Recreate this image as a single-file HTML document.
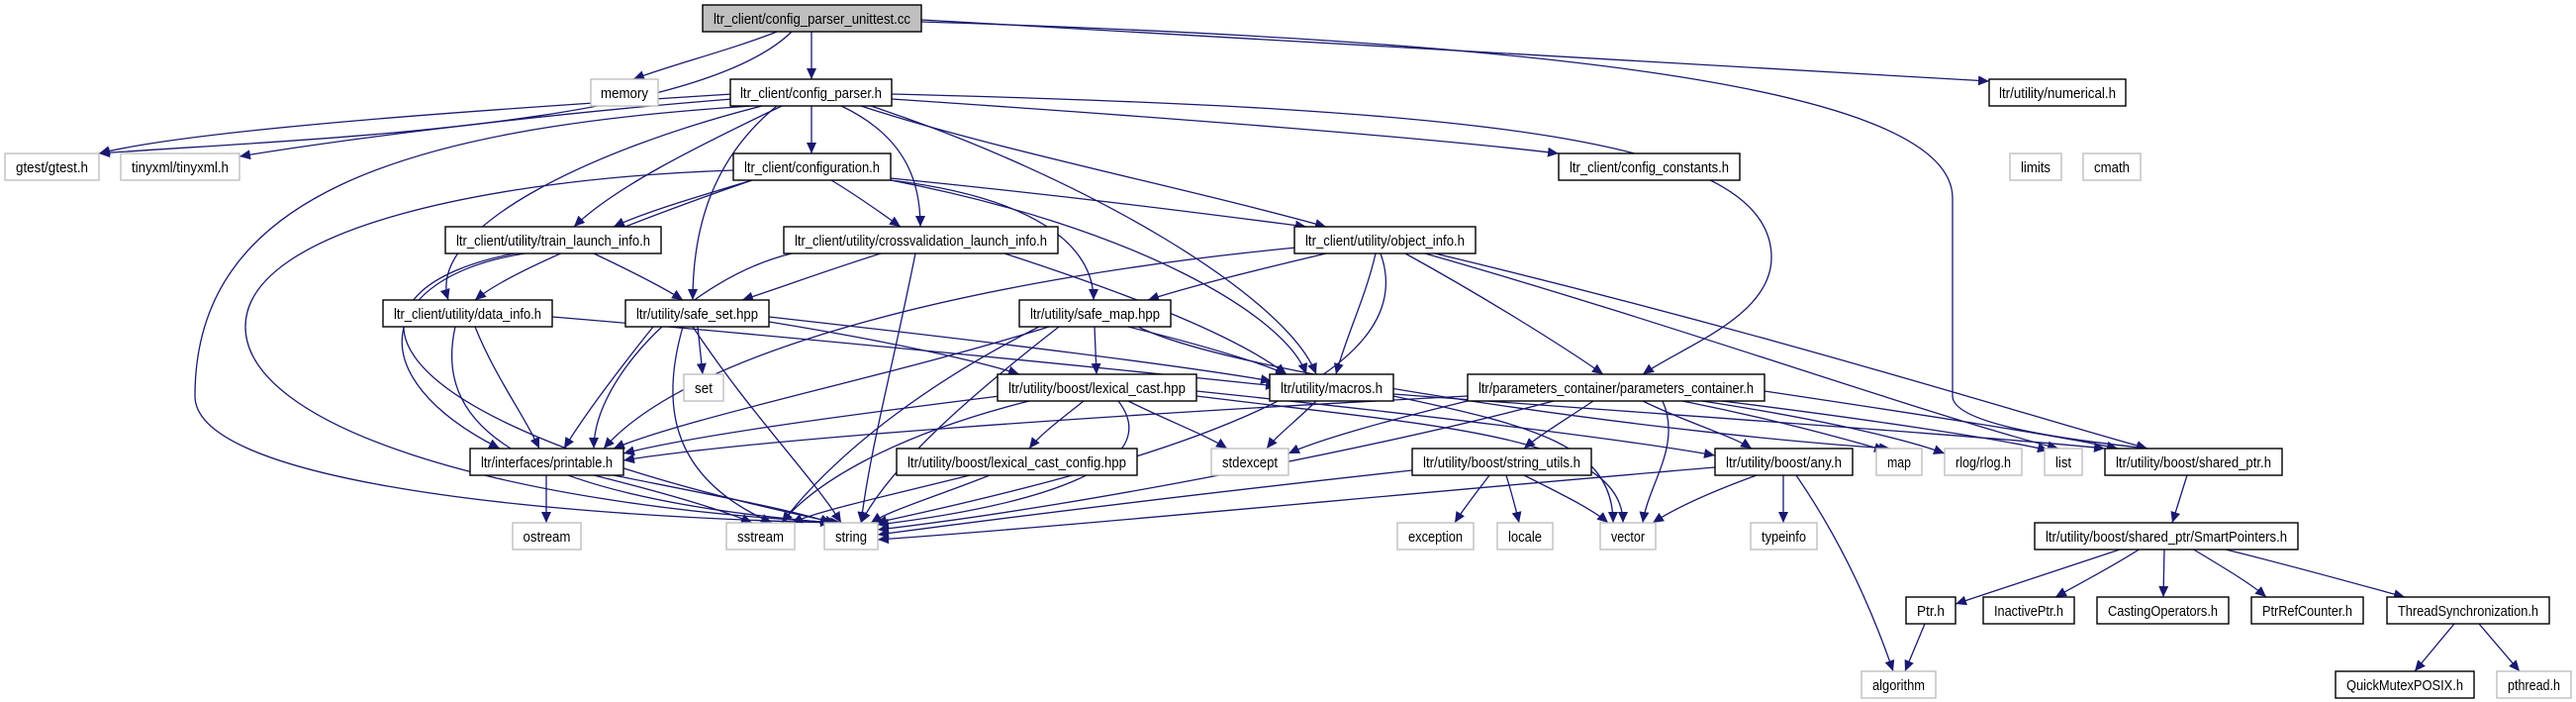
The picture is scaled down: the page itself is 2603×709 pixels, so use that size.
<!DOCTYPE html>
<html><head><meta charset="utf-8"><style>
html,body{margin:0;padding:0;background:#fff;}
svg{display:block;}
text{font-family:"Liberation Sans",sans-serif;font-size:15px;fill:#000;}
.e{fill:none;stroke:#191970;stroke-width:1.3;marker-end:url(#a);}
.n{fill:#fff;stroke:#000;stroke-width:1.4;}
.x{fill:#fff;stroke:#bfbfbf;stroke-width:1.4;}
</style></head><body>
<svg width="2603" height="709" viewBox="0 0 2603 709" xmlns="http://www.w3.org/2000/svg">
<defs><marker id="a" markerUnits="userSpaceOnUse" markerWidth="12" markerHeight="10" refX="11" refY="5" orient="auto"><path d="M0,0 L11,5 L0,10 Z" fill="#191970"/></marker></defs>
<g>
<path class="e" d="M785 32 C740 50,680 65,640 80"/>
<path class="e" d="M820 32 L820 80"/>
<path class="e" d="M800 32 C700 130,300 140,100 155"/>
<path class="e" d="M931 20 C1400 45,1800 70,2010 82"/>
<path class="e" d="M931 22 C1500 40,1973 80,1973 200 L1973 400 C1973 430,2100 445,2170 453"/>
<path class="e" d="M740 95 C500 110,200 130,100 155"/>
<path class="e" d="M740 100 C550 115,350 140,242 158"/>
<path class="e" d="M820 107 L820 155"/>
<path class="e" d="M790 107 C700 150,620 190,580 229"/>
<path class="e" d="M850 107 C920 140,930 190,930 229"/>
<path class="e" d="M870 107 C1000 150,1200 190,1340 229"/>
<path class="e" d="M770 107 C600 150,430 230,453 303"/>
<path class="e" d="M785 107 C720 160,700 230,700 303"/>
<path class="e" d="M880 107 C1100 180,1300 300,1330 378"/>
<path class="e" d="M901 100 C1200 120,1450 140,1575 155"/>
<path class="e" d="M901 95 C1500 110,1790 140,1790 260 C1790 320,1700 350,1660 378"/>
<path class="e" d="M760 107 C400 130,197 200,197 400 C197 480,500 520,845 528"/>
<path class="e" d="M760 182 C700 200,650 215,620 229"/>
<path class="e" d="M840 182 C870 200,890 215,910 229"/>
<path class="e" d="M900 180 C1100 200,1250 220,1320 229"/>
<path class="e" d="M900 182 C1050 200,1105 250,1105 303"/>
<path class="e" d="M900 182 C1150 230,1300 320,1320 378"/>
<path class="e" d="M760 182 C650 220,520 270,480 303"/>
<path class="e" d="M741 172 C500 180,248 230,248 330 C248 430,500 510,850 528"/>
<path class="e" d="M600 256 C640 275,670 290,690 303"/>
<path class="e" d="M530 256 C380 280,360 380,505 453"/>
<path class="e" d="M520 256 C340 290,330 420,845 528"/>
<path class="e" d="M890 256 C830 275,790 290,750 303"/>
<path class="e" d="M800 256 C700 280,600 380,600 453"/>
<path class="e" d="M1015 256 C1150 300,1250 340,1300 378"/>
<path class="e" d="M925 256 C900 380,880 450,870 528"/>
<path class="e" d="M1340 256 C1260 275,1200 290,1160 303"/>
<path class="e" d="M1390 256 C1380 300,1360 340,1350 378"/>
<path class="e" d="M1420 256 C1500 300,1580 350,1620 378"/>
<path class="e" d="M1450 256 C1800 340,2050 420,2170 453"/>
<path class="e" d="M1440 256 C1700 330,1950 420,2080 453"/>
<path class="e" d="M1310 250 C1000 280,700 350,610 453"/>
<path class="e" d="M1395 256 C1440 380,1200 460,885 528"/>
<path class="e" d="M558 320 C800 340,1100 370,1290 390"/>
<path class="e" d="M480 330 C500 380,530 420,545 453"/>
<path class="e" d="M460 330 C440 420,500 500,840 528"/>
<path class="e" d="M705 330 L710 378"/>
<path class="e" d="M777 325 C900 345,990 365,1030 378"/>
<path class="e" d="M777 320 C1000 345,1200 370,1285 385"/>
<path class="e" d="M660 330 C620 380,590 420,570 453"/>
<path class="e" d="M690 330 C670 400,670 480,780 528"/>
<path class="e" d="M700 330 C760 420,820 480,850 528"/>
<path class="e" d="M1106 330 L1108 378"/>
<path class="e" d="M1140 330 C1220 350,1270 365,1300 378"/>
<path class="e" d="M1060 330 C900 380,700 420,620 453"/>
<path class="e" d="M1050 330 C950 380,850 450,790 528"/>
<path class="e" d="M1070 330 C980 400,900 470,870 528"/>
<path class="e" d="M1150 330 C1250 380,1700 440,1910 453"/>
<path class="e" d="M1095 405 C1070 425,1050 440,1040 453"/>
<path class="e" d="M1140 405 C1180 425,1220 440,1240 453"/>
<path class="e" d="M1010 400 C850 420,700 440,630 458"/>
<path class="e" d="M1040 405 C900 440,820 490,790 528"/>
<path class="e" d="M1130 405 C1180 470,1050 510,887 530"/>
<path class="e" d="M1209 395 C1450 420,1650 445,1733 460"/>
<path class="e" d="M1209 400 C1450 430,1640 440,1640 528"/>
<path class="e" d="M980 480 C900 500,830 515,800 528"/>
<path class="e" d="M1000 480 C950 500,900 515,880 528"/>
<path class="e" d="M1330 405 C1310 425,1290 440,1280 453"/>
<path class="e" d="M1408 400 C1550 430,1630 450,1630 528"/>
<path class="e" d="M1408 398 C1700 420,2000 440,2127 453"/>
<path class="e" d="M1483 400 C1100 420,750 445,630 465"/>
<path class="e" d="M1483 405 C1400 425,1330 445,1302 458"/>
<path class="e" d="M1610 405 C1580 425,1555 440,1540 453"/>
<path class="e" d="M1660 405 C1700 425,1750 440,1770 453"/>
<path class="e" d="M1700 405 C1800 425,1870 445,1905 455"/>
<path class="e" d="M1720 405 C1850 425,1930 445,1965 458"/>
<path class="e" d="M1740 405 C1900 425,2030 445,2070 455"/>
<path class="e" d="M1783 395 C1950 420,2080 440,2140 453"/>
<path class="e" d="M1570 405 C1400 450,1100 510,887 535"/>
<path class="e" d="M1680 405 C1700 450,1665 490,1660 528"/>
<path class="e" d="M552 480 L552 528"/>
<path class="e" d="M600 480 C680 500,730 515,760 528"/>
<path class="e" d="M620 480 C720 500,800 515,840 528"/>
<path class="e" d="M1505 480 C1490 500,1478 515,1470 528"/>
<path class="e" d="M1522 480 C1528 500,1532 515,1535 528"/>
<path class="e" d="M1540 480 C1580 500,1610 515,1625 528"/>
<path class="e" d="M1427 475 C1200 500,1000 525,887 540"/>
<path class="e" d="M1775 480 C1720 500,1690 515,1670 528"/>
<path class="e" d="M1802 480 L1802 528"/>
<path class="e" d="M1815 480 C1870 560,1900 640,1913 678"/>
<path class="e" d="M1733 472 C1400 500,1100 530,887 545"/>
<path class="e" d="M2210 480 L2195 528"/>
<path class="e" d="M2145 554 C2080 575,2020 595,1976 610"/>
<path class="e" d="M2163 554 C2130 575,2100 590,2077 603"/>
<path class="e" d="M2187 554 L2186 603"/>
<path class="e" d="M2215 554 C2250 575,2275 590,2290 603"/>
<path class="e" d="M2245 554 C2330 575,2400 595,2430 603"/>
<path class="e" d="M1945 630 L1925 678"/>
<path class="e" d="M2480 630 L2440 678"/>
<path class="e" d="M2505 630 L2546 678"/>
</g>
<g>
<rect x="710" y="5" width="221" height="27" fill="#bfbfbf" stroke="#000" stroke-width="1.4"/><text x="820.5" y="24" text-anchor="middle" textLength="199" lengthAdjust="spacingAndGlyphs">ltr_client/config_parser_unittest.cc</text>
<rect class="x" x="597" y="80" width="68" height="27"/><text x="631" y="99" text-anchor="middle" textLength="48" lengthAdjust="spacingAndGlyphs">memory</text>
<rect class="n" x="738" y="80" width="163" height="27"/><text x="819.5" y="99" text-anchor="middle" textLength="143" lengthAdjust="spacingAndGlyphs">ltr_client/config_parser.h</text>
<rect class="n" x="2010" y="80" width="138" height="27"/><text x="2079" y="99" text-anchor="middle" textLength="118" lengthAdjust="spacingAndGlyphs">ltr/utility/numerical.h</text>
<rect class="x" x="5" y="155" width="95" height="27"/><text x="52.5" y="174" text-anchor="middle" textLength="73" lengthAdjust="spacingAndGlyphs">gtest/gtest.h</text>
<rect class="x" x="122" y="155" width="120" height="27"/><text x="182" y="174" text-anchor="middle" textLength="98" lengthAdjust="spacingAndGlyphs">tinyxml/tinyxml.h</text>
<rect class="n" x="741" y="155" width="159" height="27"/><text x="820.5" y="174" text-anchor="middle" textLength="137" lengthAdjust="spacingAndGlyphs">ltr_client/configuration.h</text>
<rect class="n" x="1575" y="155" width="183" height="27"/><text x="1666.5" y="174" text-anchor="middle" textLength="161" lengthAdjust="spacingAndGlyphs">ltr_client/config_constants.h</text>
<rect class="x" x="2031" y="155" width="52" height="27"/><text x="2057" y="174" text-anchor="middle" textLength="30" lengthAdjust="spacingAndGlyphs">limits</text>
<rect class="x" x="2105" y="155" width="58" height="27"/><text x="2134" y="174" text-anchor="middle" textLength="36" lengthAdjust="spacingAndGlyphs">cmath</text>
<rect class="n" x="450" y="229" width="218" height="27"/><text x="559" y="248" text-anchor="middle" textLength="196" lengthAdjust="spacingAndGlyphs">ltr_client/utility/train_launch_info.h</text>
<rect class="n" x="792" y="229" width="277" height="27"/><text x="930.5" y="248" text-anchor="middle" textLength="255" lengthAdjust="spacingAndGlyphs">ltr_client/utility/crossvalidation_launch_info.h</text>
<rect class="n" x="1308" y="229" width="183" height="27"/><text x="1399.5" y="248" text-anchor="middle" textLength="161" lengthAdjust="spacingAndGlyphs">ltr_client/utility/object_info.h</text>
<rect class="n" x="387" y="303" width="171" height="27"/><text x="472.5" y="322" text-anchor="middle" textLength="149" lengthAdjust="spacingAndGlyphs">ltr_client/utility/data_info.h</text>
<rect class="n" x="632" y="303" width="145" height="27"/><text x="704.5" y="322" text-anchor="middle" textLength="123" lengthAdjust="spacingAndGlyphs">ltr/utility/safe_set.hpp</text>
<rect class="n" x="1030" y="303" width="153" height="27"/><text x="1106.5" y="322" text-anchor="middle" textLength="131" lengthAdjust="spacingAndGlyphs">ltr/utility/safe_map.hpp</text>
<rect class="x" x="691" y="378" width="40" height="27"/><text x="711" y="397" text-anchor="middle" textLength="18" lengthAdjust="spacingAndGlyphs">set</text>
<rect class="n" x="1008" y="378" width="201" height="27"/><text x="1108.5" y="397" text-anchor="middle" textLength="179" lengthAdjust="spacingAndGlyphs">ltr/utility/boost/lexical_cast.hpp</text>
<rect class="n" x="1283" y="378" width="125" height="27"/><text x="1345.5" y="397" text-anchor="middle" textLength="103" lengthAdjust="spacingAndGlyphs">ltr/utility/macros.h</text>
<rect class="n" x="1483" y="378" width="300" height="27"/><text x="1633" y="397" text-anchor="middle" textLength="278" lengthAdjust="spacingAndGlyphs">ltr/parameters_container/parameters_container.h</text>
<rect class="n" x="475" y="453" width="155" height="27"/><text x="552.5" y="472" text-anchor="middle" textLength="133" lengthAdjust="spacingAndGlyphs">ltr/interfaces/printable.h</text>
<rect class="n" x="906" y="453" width="243" height="27"/><text x="1027.5" y="472" text-anchor="middle" textLength="221" lengthAdjust="spacingAndGlyphs">ltr/utility/boost/lexical_cast_config.hpp</text>
<rect class="x" x="1224" y="453" width="78" height="27"/><text x="1263" y="472" text-anchor="middle" textLength="56" lengthAdjust="spacingAndGlyphs">stdexcept</text>
<rect class="n" x="1427" y="453" width="181" height="27"/><text x="1517.5" y="472" text-anchor="middle" textLength="159" lengthAdjust="spacingAndGlyphs">ltr/utility/boost/string_utils.h</text>
<rect class="n" x="1733" y="453" width="139" height="27"/><text x="1802.5" y="472" text-anchor="middle" textLength="117" lengthAdjust="spacingAndGlyphs">ltr/utility/boost/any.h</text>
<rect class="x" x="1896" y="453" width="46" height="27"/><text x="1919" y="472" text-anchor="middle" textLength="24" lengthAdjust="spacingAndGlyphs">map</text>
<rect class="x" x="1965" y="453" width="78" height="27"/><text x="2004" y="472" text-anchor="middle" textLength="56" lengthAdjust="spacingAndGlyphs">rlog/rlog.h</text>
<rect class="x" x="2066" y="453" width="38" height="27"/><text x="2085" y="472" text-anchor="middle" textLength="16" lengthAdjust="spacingAndGlyphs">list</text>
<rect class="n" x="2127" y="453" width="179" height="27"/><text x="2216.5" y="472" text-anchor="middle" textLength="157" lengthAdjust="spacingAndGlyphs">ltr/utility/boost/shared_ptr.h</text>
<rect class="x" x="518" y="528" width="69" height="27"/><text x="552.5" y="547" text-anchor="middle" textLength="48" lengthAdjust="spacingAndGlyphs">ostream</text>
<rect class="x" x="734" y="528" width="69" height="27"/><text x="768.5" y="547" text-anchor="middle" textLength="47" lengthAdjust="spacingAndGlyphs">sstream</text>
<rect class="x" x="833" y="528" width="54" height="27"/><text x="860" y="547" text-anchor="middle" textLength="32" lengthAdjust="spacingAndGlyphs">string</text>
<rect class="x" x="1412" y="528" width="77" height="27"/><text x="1450.5" y="547" text-anchor="middle" textLength="55" lengthAdjust="spacingAndGlyphs">exception</text>
<rect class="x" x="1513" y="528" width="56" height="27"/><text x="1541" y="547" text-anchor="middle" textLength="34" lengthAdjust="spacingAndGlyphs">locale</text>
<rect class="x" x="1617" y="528" width="56" height="27"/><text x="1645" y="547" text-anchor="middle" textLength="34" lengthAdjust="spacingAndGlyphs">vector</text>
<rect class="x" x="1769" y="528" width="67" height="27"/><text x="1802.5" y="547" text-anchor="middle" textLength="45" lengthAdjust="spacingAndGlyphs">typeinfo</text>
<rect class="n" x="2056" y="528" width="266" height="27"/><text x="2189" y="547" text-anchor="middle" textLength="244" lengthAdjust="spacingAndGlyphs">ltr/utility/boost/shared_ptr/SmartPointers.h</text>
<rect class="n" x="1926" y="603" width="50" height="27"/><text x="1951" y="622" text-anchor="middle" textLength="28" lengthAdjust="spacingAndGlyphs">Ptr.h</text>
<rect class="n" x="2004" y="603" width="92" height="27"/><text x="2050" y="622" text-anchor="middle" textLength="70" lengthAdjust="spacingAndGlyphs">InactivePtr.h</text>
<rect class="n" x="2119" y="603" width="133" height="27"/><text x="2185.5" y="622" text-anchor="middle" textLength="111" lengthAdjust="spacingAndGlyphs">CastingOperators.h</text>
<rect class="n" x="2275" y="603" width="113" height="27"/><text x="2331.5" y="622" text-anchor="middle" textLength="91" lengthAdjust="spacingAndGlyphs">PtrRefCounter.h</text>
<rect class="n" x="2412" y="603" width="164" height="27"/><text x="2494" y="622" text-anchor="middle" textLength="142" lengthAdjust="spacingAndGlyphs">ThreadSynchronization.h</text>
<rect class="x" x="1881" y="678" width="75" height="27"/><text x="1918.5" y="697" text-anchor="middle" textLength="53" lengthAdjust="spacingAndGlyphs">algorithm</text>
<rect class="n" x="2360" y="678" width="140" height="27"/><text x="2430" y="697" text-anchor="middle" textLength="118" lengthAdjust="spacingAndGlyphs">QuickMutexPOSIX.h</text>
<rect class="x" x="2523" y="678" width="75" height="27"/><text x="2560.5" y="697" text-anchor="middle" textLength="53" lengthAdjust="spacingAndGlyphs">pthread.h</text>
</g>
</svg>
</body></html>
